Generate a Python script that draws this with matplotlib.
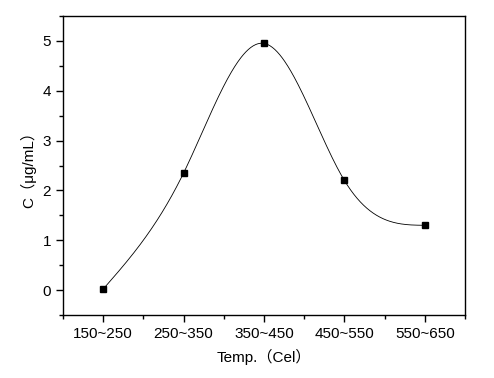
import numpy as np
import matplotlib
matplotlib.use("Agg")
import matplotlib.pyplot as plt
from matplotlib.ticker import MultipleLocator

categories = ["150~250", "250~350", "350~450", "450~550", "550~650"]
values = [0.02, 2.35, 4.95, 2.2, 1.3]

plt.rcParams['font.family'] = ['Liberation Sans', 'Noto Sans CJK SC', 'DejaVu Sans']

def natural_spline(x, y, xs):
    x = np.asarray(x, float); y = np.asarray(y, float)
    n = len(x)
    h = np.diff(x)
    A = np.zeros((n, n)); b = np.zeros(n)
    A[0, 0] = 1; A[-1, -1] = 1
    for i in range(1, n - 1):
        A[i, i - 1] = h[i - 1]
        A[i, i] = 2 * (h[i - 1] + h[i])
        A[i, i + 1] = h[i]
        b[i] = 3 * ((y[i + 1] - y[i]) / h[i] - (y[i] - y[i - 1]) / h[i - 1])
    c = np.linalg.solve(A, b)
    out = np.empty_like(xs)
    for k, t in enumerate(xs):
        i = min(max(np.searchsorted(x, t) - 1, 0), n - 2)
        dx = t - x[i]
        bi = (y[i + 1] - y[i]) / h[i] - h[i] * (2 * c[i] + c[i + 1]) / 3
        di = (c[i + 1] - c[i]) / (3 * h[i])
        out[k] = y[i] + bi * dx + c[i] * dx ** 2 + di * dx ** 3
    return out

x = np.arange(len(categories))
xs = np.linspace(0, len(categories) - 1, 400)
ys = natural_spline(x, values, xs)

fig = plt.figure(figsize=(4.94, 3.78), dpi=100)
ax = fig.add_axes([63 / 494, 1 - 315 / 378, (465 - 63) / 494, (315 - 16) / 378])
ax.plot(xs, ys, color='black', lw=0.6)
ax.plot(x, values, 's', color='black', ms=5)

ax.set_xlim(-0.5, 4.5)
ax.set_ylim(-0.5, 5.5)
ax.set_xticks(x)
ax.set_xticklabels(categories)
ax.xaxis.set_minor_locator(MultipleLocator(0.5))
ax.yaxis.set_major_locator(MultipleLocator(1))
ax.yaxis.set_minor_locator(MultipleLocator(0.5))
ax.tick_params(axis='both', which='major', direction='out', length=5, width=1, labelsize=11)
ax.tick_params(axis='both', which='minor', direction='out', length=3, width=1)
ax.tick_params(top=False, right=False)
for s in ax.spines.values():
    s.set_linewidth(1)

ax.set_xlabel("Temp.（Cel）", fontsize=11, labelpad=6)
ax.set_ylabel("C（μg/mL）", fontsize=11, labelpad=5)

fig.savefig("out.png", dpi=100)
